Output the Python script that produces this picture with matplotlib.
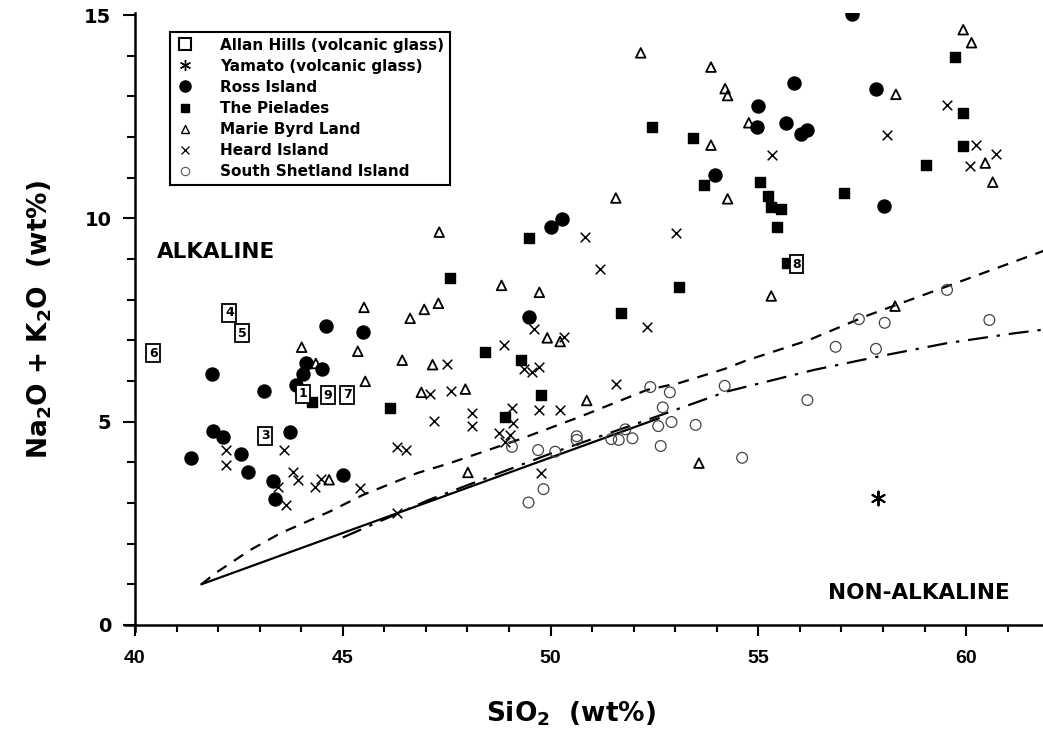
import matplotlib
matplotlib.use("Agg")
import matplotlib.pyplot as plt
from matplotlib.ticker import FixedLocator
from matplotlib.lines import Line2D

plt.rcParams['font.family'] = ['DejaVu Sans']
plt.rcParams['mathtext.default'] = 'bf'

# ---------------- data ----------------
ross_x = [41.34, 41.86, 43.10, 44.60, 45.48, 44.12, 44.05, 44.51, 43.87, 41.87, 42.11, 43.74,
          42.54, 42.71, 43.31, 43.37, 45.01, 50.27, 50.01, 49.47, 57.26, 55.85, 57.84, 55.00,
          54.97, 55.66, 56.03, 56.17, 53.96, 58.03]
ross_y = [4.10, 6.18, 5.75, 7.35, 7.21, 6.45, 6.16, 6.29, 5.91, 4.77, 4.61, 4.75,
          4.20, 3.76, 3.54, 3.10, 3.69, 9.98, 9.78, 7.58, 15.02, 13.34, 13.19, 12.77,
          12.25, 12.35, 12.08, 12.18, 11.06, 10.30]

pleiades_x = [44.25, 49.48, 47.59, 53.08, 51.69, 48.43, 49.28, 49.77, 46.14, 48.90, 52.44, 53.43,
              53.70, 59.73, 59.93, 59.93, 59.04, 55.05, 55.24, 55.31, 55.55, 55.46, 57.07, 55.68]
pleiades_y = [5.48, 9.52, 8.53, 8.30, 7.67, 6.71, 6.52, 5.66, 5.33, 5.11, 12.25, 11.97,
              10.82, 13.97, 12.58, 11.78, 11.30, 10.89, 10.55, 10.27, 10.22, 9.79, 10.63, 8.89]

mbl_x = [45.51, 44.01, 45.36, 44.35, 45.54, 44.67, 47.32, 48.82, 49.73, 47.30, 46.96, 46.62,
         49.92, 50.23, 46.43, 47.16, 46.89, 47.95, 50.87, 48.01, 53.57, 53.86, 54.20, 54.26,
         54.77, 53.86, 54.26, 58.31, 59.93, 60.13, 60.46, 60.64, 55.31, 58.29, 52.17, 51.57]
mbl_y = [7.81, 6.83, 6.73, 6.43, 5.99, 3.57, 9.66, 8.35, 8.18, 7.91, 7.76, 7.54,
         7.06, 6.97, 6.51, 6.40, 5.72, 5.80, 5.52, 3.75, 3.98, 13.72, 13.19, 13.02,
         12.35, 11.80, 10.48, 13.05, 14.64, 14.32, 11.36, 10.89, 8.09, 7.84, 14.07, 10.50]

heard_x = [42.18, 42.18, 43.58, 43.80, 43.93, 43.45, 44.34, 44.48, 43.63, 45.42, 50.82, 53.02,
           51.20, 52.32, 49.61, 50.32, 48.87, 47.50, 49.35, 49.56, 49.72, 47.10, 47.60, 51.58,
           48.12, 49.08, 49.73, 50.23, 47.20, 48.12, 49.10, 48.76, 49.03, 48.90, 46.31, 46.51,
           49.76, 46.30, 55.32, 58.09, 59.55, 60.24, 60.10, 60.71]
heard_y = [4.29, 3.93, 4.29, 3.77, 3.57, 3.40, 3.40, 3.58, 2.95, 3.37, 9.53, 9.64,
           8.76, 7.32, 7.29, 7.09, 6.89, 6.42, 6.29, 6.23, 6.34, 5.67, 5.76, 5.92,
           5.22, 5.34, 5.28, 5.28, 5.02, 4.88, 4.97, 4.71, 4.67, 4.51, 4.37, 4.30,
           3.73, 2.75, 11.56, 12.05, 12.79, 11.80, 11.29, 11.58]

shetland_x = [52.40, 52.87, 52.70, 52.91, 52.59, 53.49, 52.65, 50.63, 50.63, 51.80, 51.64, 51.97,
              51.46, 49.70, 50.11, 49.07, 49.83, 49.47, 54.19, 56.18, 54.61, 56.86, 57.83, 57.42,
              58.04, 59.54, 60.56]
shetland_y = [5.85, 5.72, 5.35, 4.99, 4.89, 4.92, 4.40, 4.64, 4.55, 4.81, 4.55, 4.59,
              4.57, 4.30, 4.26, 4.38, 3.34, 3.01, 5.88, 5.53, 4.11, 6.84, 6.79, 7.52,
              7.43, 8.24, 7.50]

allan_labels = ["6", "4", "5", "1", "9", "7", "3", "8"]
allan_x = [40.44, 42.27, 42.58, 44.05, 44.64, 45.11, 43.13, 55.92]
allan_y = [6.68, 7.68, 7.17, 5.68, 5.65, 5.66, 4.65, 8.87]

yamato_x = [57.87]
yamato_y = [3.13]

# boundary lines
dashed_x = [41.6, 41.93, 42.77, 43.49, 44.69, 45.49, 46.78, 47.58, 49.27, 50.71, 52.32, 53.1,
            54.2, 54.7, 56.2, 57.6, 59.2, 60.8, 62.0]
dashed_y = [1.0, 1.27, 1.84, 2.25, 2.79, 3.20, 3.73, 3.98, 4.57, 5.12, 5.78, 5.95,
            6.30, 6.50, 7.00, 7.60, 8.20, 8.80, 9.25]
solid_x = [41.6, 52.6]
solid_y = [1.0, 5.08]
dashdot_x = [45.0, 47.06, 48.55, 50.07, 52.32, 54.24, 56.33, 57.93, 59.54, 61.14, 62.0]
dashdot_y = [2.15, 3.07, 3.65, 4.24, 5.04, 5.74, 6.27, 6.61, 6.93, 7.17, 7.28]

legend_labels = ["Allan Hills (volcanic glass)", "Yamato (volcanic glass)", "Ross Island",
                 "The Pielades", "Marie Byrd Land", "Heard Island", "South Shetland Island"]

# ---------------- figure ----------------
fig = plt.figure(figsize=(10.43, 7.40), dpi=100)
ax = fig.add_axes([0.1195, 0.1473, 0.8805, 0.8351])
ax.set_xlim(39.75, 61.85)
ax.set_ylim(-0.15, 15.05)

for s in ['top', 'right']:
    ax.spines[s].set_visible(False)
ax.spines['left'].set_position(('data', 40))
ax.spines['bottom'].set_position(('data', 0))
ax.spines['left'].set_linewidth(1.8)
ax.spines['bottom'].set_linewidth(1.8)

ax.plot(dashed_x, dashed_y, color='black', lw=1.6, linestyle=(0, (5, 4)))
ax.plot(solid_x, solid_y, color='black', lw=1.6)
ax.plot(dashdot_x, dashdot_y, color='black', lw=1.6, linestyle=(0, (9, 4, 1.5, 4)))

ax.scatter(ross_x, ross_y, s=88, marker='o', color='black', zorder=3)
ax.scatter(pleiades_x, pleiades_y, s=42, marker='s', color='black', zorder=3)
ax.scatter(mbl_x, mbl_y, s=48, marker='^', facecolors='none', edgecolors='black', linewidths=1.3, zorder=3)
ax.scatter(heard_x, heard_y, s=48, marker='x', color='black', linewidths=1.1, zorder=3)
ax.scatter(shetland_x, shetland_y, s=60, marker='o', facecolors='none', edgecolors='#444444', linewidths=0.9, zorder=3)
ax.scatter(yamato_x, yamato_y, s=100, marker=(6, 2, 0), color='black', linewidths=1.4, zorder=3)

for lab, xv, yv in zip(allan_labels, allan_x, allan_y):
    ax.text(xv, yv, lab, ha='center', va='center', fontsize=9, fontweight='bold', zorder=4,
            bbox=dict(boxstyle='square,pad=0.2', facecolor='white', edgecolor='black', linewidth=1.3))

ax.text(41.95, 9.17, "ALKALINE", ha='center', va='center', fontsize=15.5, fontweight='bold')
ax.text(58.87, 0.79, "NON-ALKALINE", ha='center', va='center', fontsize=15.5, fontweight='bold')

# ticks
ax.xaxis.set_major_locator(FixedLocator([40, 45, 50, 55, 60]))
ax.xaxis.set_minor_locator(FixedLocator([v for v in range(41, 62) if v % 5 != 0]))
ax.yaxis.set_major_locator(FixedLocator([0, 5, 10, 15]))
ax.yaxis.set_minor_locator(FixedLocator([v for v in range(1, 15) if v % 5 != 0]))
ax.tick_params(axis='x', which='major', direction='out', length=8, width=1.5, pad=10)
ax.tick_params(axis='x', which='minor', direction='out', length=5, width=1.5)
ax.tick_params(axis='y', which='major', direction='out', length=9, width=1.5, pad=8)
ax.tick_params(axis='y', which='minor', direction='out', length=6, width=1.5)
for t in ax.get_xticklabels():
    t.set_fontfamily('Liberation Sans')
    t.set_fontweight('bold')
    t.set_fontsize(14)
for t in ax.get_yticklabels():
    t.set_fontweight('bold')
    t.set_fontsize(14)

fig.text(0.547, 0.035, "SiO$_2$  (wt%)", ha='center', va='center', fontsize=19, fontweight='bold')
fig.text(0.038, 0.568, "Na$_2$O + K$_2$O  (wt%)", ha='center', va='center', fontsize=19,
         fontweight='bold', rotation=90)

handles = [
    Line2D([], [], marker='s', linestyle='none', markersize=9, markerfacecolor='none', markeredgecolor='black', markeredgewidth=1.5),
    Line2D([], [], marker=(6, 2, 0), linestyle='none', markersize=8, color='black', markeredgewidth=1.0),
    Line2D([], [], marker='o', linestyle='none', markersize=8, color='black'),
    Line2D([], [], marker='s', linestyle='none', markersize=5.5, color='black'),
    Line2D([], [], marker='^', linestyle='none', markersize=6, markerfacecolor='none', markeredgecolor='black', markeredgewidth=1.0),
    Line2D([], [], marker='x', linestyle='none', markersize=6, color='black', markeredgewidth=0.9),
    Line2D([], [], marker='o', linestyle='none', markersize=6, markerfacecolor='none', markeredgecolor='#555555', markeredgewidth=0.8),
]
leg = ax.legend(handles, legend_labels, loc='upper left', bbox_to_anchor=(0.0494, 0.969),
                borderaxespad=0, fancybox=False, framealpha=1, edgecolor='black',
                prop={'weight': 'bold', 'size': 11}, labelspacing=0.4, handletextpad=1.75,
                handlelength=1.2, borderpad=0.35)
leg.get_frame().set_linewidth(1.5)

fig.savefig("out.png", dpi=100)
